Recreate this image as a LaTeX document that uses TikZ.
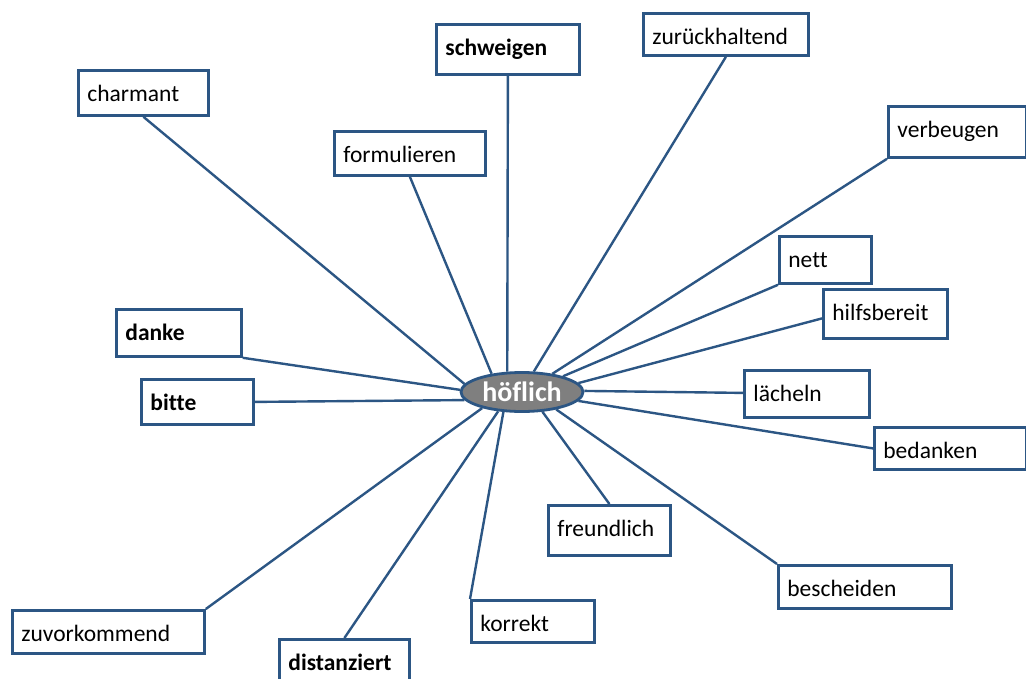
\documentclass[tikz,border=0pt]{standalone}
\usepackage{fontspec}
\setmainfont{Carlito}[Ligatures=NoCommon]
\usetikzlibrary{shapes.geometric}
\definecolor{lineblue}{HTML}{2C5684}
\definecolor{hgray}{HTML}{7F7F7F}
\tikzset{
  wordbox/.style={draw=lineblue, line width=2.8pt, fill=white, inner xsep=9pt, inner ysep=0pt,
    text height=31pt, align=left, anchor=north west,
    font=\fontsize{23.5}{28}\selectfont},
  hub/.style={ellipse, draw=lineblue, line width=2.8pt, fill=hgray, text=white, inner sep=0pt,
    minimum width=122pt, minimum height=39pt, font=\fontsize{28}{32}\selectfont\bfseries},
  link/.style={draw=lineblue, line width=2.4pt}
}
\begin{document}
\begin{tikzpicture}[x=1pt,y=-1pt]
\clip (0,0) rectangle (1026,678);
\fill[white] (0,0) rectangle (1026,678);
% hub
\node[hub] (h) at (522,392) {höflich};
% boxes
\node[wordbox, text width=112pt, text depth=14pt] (cha) at (77,69) {charmant};
\node[wordbox, text width=125pt, text depth=19pt] (sch) at (435,23) {\bfseries schweigen};
\node[wordbox, text width=147pt, text depth=11pt] (zur) at (642,12) {zurückhaltend};
\node[wordbox, text width=133pt, text depth=13pt] (for) at (333,130) {formulieren};
\node[wordbox, text width=120pt, text depth=20pt] (ver) at (887,105) {verbeugen};
\node[wordbox, text width=74pt, text depth=16pt] (net) at (778,235) {nett};
\node[wordbox, text width=106pt, text depth=18pt] (hil) at (822,288) {hilfsbereit};
\node[wordbox, text width=107pt, text depth=16pt] (dan) at (115,308) {\bfseries danke};
\node[wordbox, text width=94pt, text depth=14pt] (bit) at (140,378) {\bfseries bitte};
\node[wordbox, text width=107pt, text depth=16pt] (lae) at (743,369) {lächeln};
\node[wordbox, text width=134pt, text depth=11pt] (bed) at (873,426) {bedanken};
\node[wordbox, text width=104pt, text depth=19pt] (fre) at (547,504) {freundlich};
\node[wordbox, text width=155pt, text depth=12pt] (bes) at (777,564) {bescheiden};
\node[wordbox, text width=174pt, text depth=12pt] (zuv) at (11,609) {zuvorkommend};
\node[wordbox, text width=105pt, text depth=11pt] (kor) at (470,599) {korrekt};
\node[wordbox, text width=112pt, text depth=19pt] (dis) at (278,638) {\bfseries distanziert};
% connectors
\draw[link] (cha.south) -- (h.172);
\draw[link] (dan.south east) -- (h.178);
\draw[link] (bit.east) -- (h.188);
\draw[link] (zuv.north east) -- (h.202);
\draw[link] (dis.north) -- (h.219);
\draw[link] (kor.north west) -- (h.227);
\draw[link] (fre.north) -- (h.316);
\draw[link] (bes.north west) -- (h.333);
\draw[link] (bed.west) -- (h.351);
\draw[link] ([yshift=1pt]lae.west) -- (h.1);
\draw[link] ([yshift=-4.5pt]hil.west) -- (h.9);
\draw[link] (net.south west) -- (h.21);
\draw[link] (ver.south west) -- (h.31);
\draw[link] (zur.south) -- (h.60);
\draw[link] (sch.south) -- (h.126);
\draw[link] (for.south) -- (h.149);
\end{tikzpicture}
\end{document}
